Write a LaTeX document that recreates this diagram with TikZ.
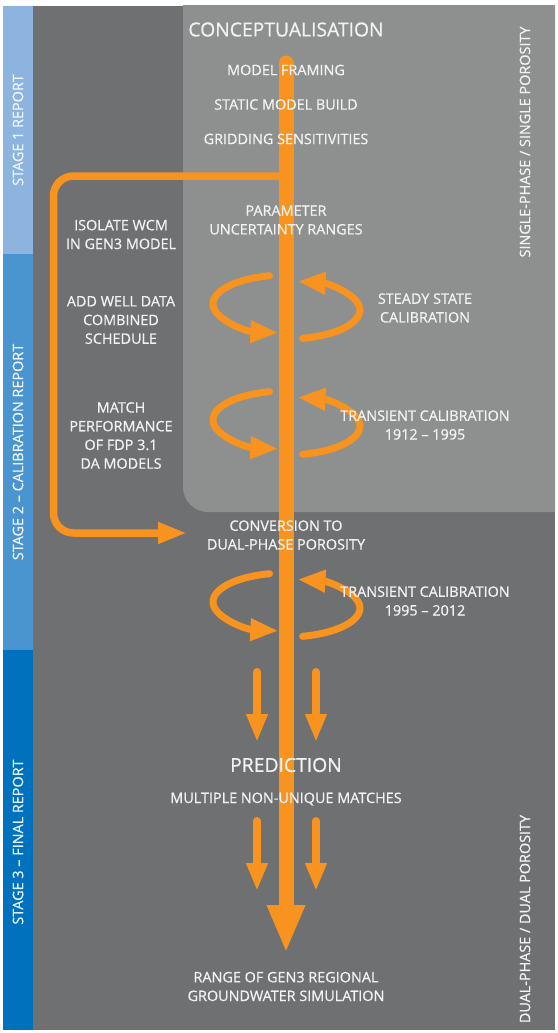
\documentclass[tikz,border=0pt]{standalone}
\usepackage{fontspec}
\setmainfont{Open Sans}[FakeBold=0.7]
\usetikzlibrary{arrows.meta,positioning}
\usepackage{xcolor}

\definecolor{darkpanel}{HTML}{6F7072}
\definecolor{lightpanel}{HTML}{8E8F8F}
\definecolor{flow}{HTML}{F7931E}
\definecolor{stageone}{HTML}{8CB4DF}
\definecolor{stagetwo}{HTML}{4A94D0}
\definecolor{stagethree}{HTML}{0071BC}

\tikzset{
	flowtext/.style={text=white!95!black,font=\fontsize{14.4}{18.7}\selectfont,align=center,inner sep=0pt},
	flowtitle/.style={flowtext,font=\fontsize{19.3}{22}\selectfont},
	sidetext/.style={flowtext,rotate=90},
	shaft/.style={draw=flow,line width=15pt,line cap=round,-{Triangle[length=48pt,width=35pt]}},
	feedback/.style={draw=flow,line width=7.5pt,rounded corners=20pt,-{Triangle[length=29pt,width=20pt]}},
	loopline/.style={draw=flow,line width=7pt,line cap=round,-{Triangle[length=28pt,width=21pt]}},
	spread/.style={draw=flow,line width=8pt,line cap=round,-{Triangle[length=28pt,width=20pt]}}
}

\begin{document}
\begin{tikzpicture}[x=1pt,y=-1pt]
	\useasboundingbox (0,0) rectangle (557,1033);
	\fill[white] (0,0) rectangle (557,1033);
	
	% Pannelli di sfondo
	\fill[darkpanel] (33,6) rectangle (555,1030);
	\begin{scope}
		\clip (33,6) rectangle (555,1030);
		\fill[lightpanel,rounded corners=25pt] (183,-40) rectangle (600,512);
	\end{scope}
	
	% Barre delle fasi
	\fill[stageone] (3,6) rectangle (33,254);
	\fill[stagetwo] (3,254) rectangle (33,650);
	\fill[stagethree] (3,650) rectangle (33,1030);
	
	% Ritorno laterale
	\coordinate (fbstart) at (286,176);
	\coordinate (fbcorner) at (53.5,533);
	\coordinate (fbend) at (187,533);
	\draw[feedback] (fbstart) -| (fbcorner) -- (fbend);
	
	% Asse principale
	\coordinate (shafttop) at (286,63);
	\coordinate (shaftend) at (286,953);
	\draw[shaft] (shafttop) -- (shaftend);
	
	% Cicli di calibrazione
	\foreach \cy in {307,423,605} {
		\draw[loopline] (286,\cy) ++(-16.4,-31.3) arc[start angle=257,end angle=96,x radius=73,y radius=29];
		\draw[loopline] (286,\cy) ++(16.6,31.3) arc[start angle=77,end angle=-81,x radius=74,y radius=29];
	}
	
	% Frecce verso la previsione
	\foreach \x/\n in {257/l,316/r} {
		\coordinate (up\n) at (\x,672);
		\coordinate (upend\n) at (\x,742);
		\coordinate (lo\n) at (\x,821);
		\coordinate (loend\n) at (\x,891);
		\draw[spread] (up\n) -- (upend\n);
		\draw[spread] (lo\n) -- (loend\n);
	}
	
	% Colonna centrale
	\node[flowtitle] (concept) at (286,29.5) {CONCEPTUALISATION};
	\node[flowtext] (framing) at (286,70) {MODEL FRAMING};
	\node[flowtext,below=23.5pt of framing] (static) {STATIC MODEL BUILD};
	\node[flowtext,below=23.5pt of static] (gridding) {GRIDDING SENSITIVITIES};
	\node[flowtext] (param) at (286,220) {PARAMETER\\UNCERTAINTY RANGES};
	\node[flowtext] (conv) at (286,535) {CONVERSION TO\\DUAL-PHASE POROSITY};
	\node[flowtitle] (predict) at (286,765) {PREDICTION};
	\node[flowtext] (multi) at (286,799) {MULTIPLE NON-UNIQUE MATCHES};
	\node[flowtext] (range) at (286,986.5) {RANGE OF GEN3 REGIONAL\\GROUNDWATER SIMULATION};
	
	% Colonna sinistra
	\node[flowtext] (isolate) at (121,234.5) {ISOLATE WCM\\IN GEN3 MODEL};
	\node[flowtext] (welldata) at (121,320) {ADD WELL DATA\\COMBINED\\SCHEDULE};
	\node[flowtext] (matchfdp) at (121,435.5) {MATCH\\PERFORMANCE\\OF FDP 3.1\\DA MODELS};
	
	% Colonna destra
	\node[flowtext] (steady) at (425,308) {STEADY STATE\\CALIBRATION};
	\node[flowtext] (trans1) at (425,425) {TRANSIENT CALIBRATION\\1912 -- 1995};
	\node[flowtext] (trans2) at (425,601) {TRANSIENT CALIBRATION\\1995 -- 2012};
	
	% Etichette verticali
	\node[sidetext] (single) at (525,142) {SINGLE-PHASE / SINGLE POROSITY};
	\node[sidetext] (dual) at (525,919) {DUAL-PHASE / DUAL POROSITY};
	\node[sidetext,text=white!85!stageone] (stage1) at (18,130) {STAGE 1 REPORT};
	\node[sidetext,text=white!90!stagetwo] (stage2) at (18,452) {STAGE 2 -- CALIBRATION REPORT};
	\node[sidetext,text=white!90!stagethree] (stage3) at (18,842) {STAGE 3 -- FINAL REPORT};
\end{tikzpicture}
\end{document}
